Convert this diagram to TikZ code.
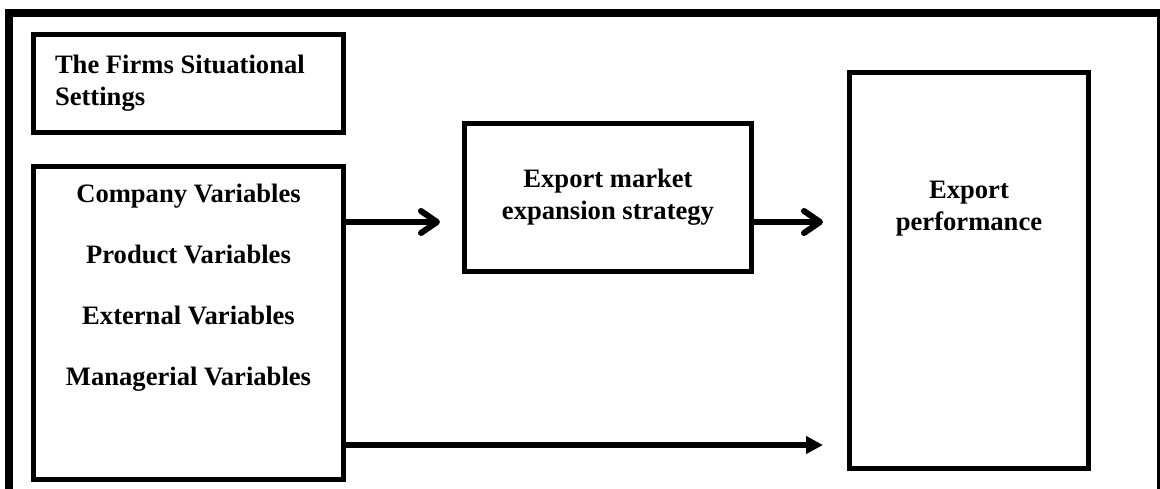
\documentclass[tikz,border=0pt]{standalone}
\usepackage{fontspec}
\setmainfont{Liberation Serif}
\usetikzlibrary{arrows.meta,positioning}

\begin{document}
\begin{tikzpicture}[
  x=0.5pt, y=-0.5pt,
  font=\fontsize{13.3}{16}\selectfont\bfseries,
  box/.style={draw, line width=2.5pt, inner sep=0pt},
  txt/.style={align=center, inner sep=0pt},
  ar/.style={-{Straight Barb[length=8pt,width=11pt,round]}, line width=3pt},
  arf/.style={-{Triangle[length=8.5pt,width=8.5pt]}, line width=2.8pt},
]
\useasboundingbox (0,0) rectangle (1160,488);
\clip (0,0) rectangle (1160,488);
% outer frame, runs off the page at right and bottom
\draw[line width=4pt] (9,13) rectangle (1161,500);

\node[box, minimum width=155pt, minimum height=49pt, inner xsep=10.75pt,
      text width=133.5pt, align=flush left] (sit) at (188.5,83.5) {The Firms Situational\\Settings};
\node[box, minimum width=155pt, minimum height=156.5pt] (vars) at (188.5,323) {};
\node[box, minimum width=143.5pt, minimum height=74pt, align=center] (strat) at (608,197.5) {Export market\\expansion strategy};
\node[box, minimum width=119.5pt, minimum height=198pt] (perf) at (969,270.5) {};

\node[txt, font=\fontsize{13.3}{30.5}\selectfont\bfseries] (vars-txt) at (188.5,288)
  {Company Variables\\Product Variables\\External Variables\\Managerial Variables};
\node[txt] (perf-txt) at (969,209) {Export\\performance};

\coordinate (r1) at (0,222);
\coordinate (r2) at (0,445);
\draw[ar, shorten >=11pt] (vars.east |- r1) -- (strat.west |- r1);
\draw[ar, shorten >=12pt] (strat.east |- r1) -- (perf.west |- r1);
\draw[arf, shorten >=12pt] (vars.east |- r2) -- (perf.west |- r2);
\end{tikzpicture}
\end{document}
